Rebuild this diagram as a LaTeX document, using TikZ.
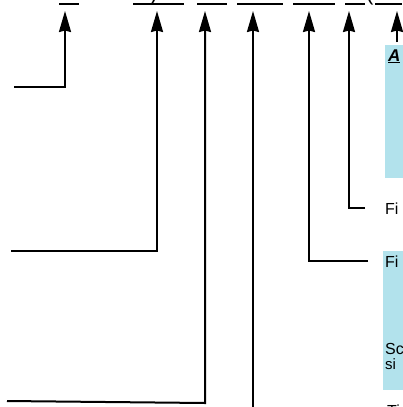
\documentclass[tikz,border=0pt]{standalone}
\usepackage{fontspec}
\setmainfont{Liberation Sans}
\usetikzlibrary{arrows.meta}
\definecolor{boxblue}{RGB}{178,226,236}

\begin{document}
\begin{tikzpicture}[x=1pt,y=-1pt,
      conn/.style={line width=2pt,-{Stealth[length=21pt,width=12pt,inset=1.5pt]}},
      uline/.style={line width=1.7pt},
      bluebox/.style={fill=boxblue,draw=none,anchor=north west,minimum width=30pt}]
      \tikzstyle{every node}=[inner sep=0pt,anchor=base west,
      font=\fontsize{16}{16}\selectfont]
      \useasboundingbox (0,0) rectangle (402,407);
      \node[bluebox,minimum height=133pt] (boxA) at (385,45) {}; %top box
      \node[bluebox,minimum height=139pt] (boxF) at (383,251) {}; %lower box
      \node[font=\fontsize{17}{17}\selectfont\bfseries\itshape] (lblA) at (388,61) {\underline{A}};
      \node (fiTop) at (385,214) {Fi};
      \node (fiBox) at (385,267) {Fi};
      \node (scBox) at (385,354) {Sc};
      \node[font=\fontsize{15}{15}\selectfont] (siBox) at (385,369) {si};
      \node (tiBot) at (387,416) {Ti};
      \node[font=\fontsize{22}{22}\selectfont] (parR) at (150,0) {)};
      \node[font=\fontsize{22}{22}\selectfont] (parL) at (366,0) {(};
      % underlines along the top edge
      \foreach \a/\b in {59/79,133/184,197/227,237/283,293/335,345/365,375/402}
        \draw[uline] (\a,4) -- (\b,4);
      \foreach \n/\x in {1/65,2/157,3/205,4/253,5/309,6/349,7/397}
        \coordinate (tip\n) at (\x,11);
      \coordinate (end1) at (14,87);
      \coordinate (end2) at (11,251);
      \coordinate (end3) at (7,401);
      \coordinate (bend3) at (205,403);
      \coordinate (end4) at (253,408);
      \coordinate (end7) at (397,42);
      \draw[conn] (end1) -| (tip1);
      \draw[conn] (end2) -| (tip2);
      \draw[conn] (end3) -- (bend3) -- (tip3);
      \draw[conn] (end4) -- (tip4);
      \draw[conn] ([xshift=-17pt]fiBox.west) -| (tip5);
      \draw[conn] ([xshift=-20pt]fiTop.west) -| (tip6);
      \draw[conn] (end7) -- (tip7);
    \end{tikzpicture}
\end{document}
